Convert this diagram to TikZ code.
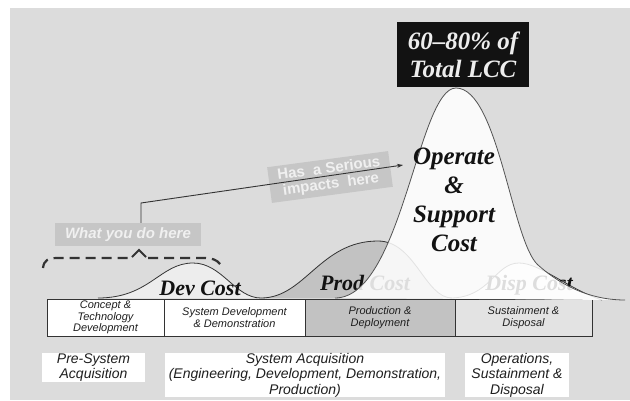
\documentclass[tikz,border=0pt]{standalone}
\usepackage{fontspec}
\setsansfont{Liberation Sans}[ItalicFont={Liberation Sans Italic}, BoldFont={Liberation Sans Bold},
    BoldItalicFont={Liberation Sans Bold Italic}]
\newfontfamily\costfont{Liberation Serif}[BoldItalicFont={Liberation Serif Bold Italic}]
\usetikzlibrary{arrows.meta}

\definecolor{bggray}{HTML}{DCDCDC}
\definecolor{devfill}{HTML}{EDEDED}
\definecolor{prodfill}{HTML}{C2C2C2}
\definecolor{dispfill}{HTML}{F6F6F6}
\definecolor{tagfill}{HTML}{C6C6C6}
\definecolor{inkgray}{HTML}{333333}

\tikzset{
    phase/.style={draw=inkgray, line width=0.9pt, minimum height=37pt, inner sep=0pt, align=center,
        text=black!88, font=\sffamily\itshape\fontsize{11}{11.5}\selectfont},
    era/.style={fill=white, inner sep=0pt, align=center, text=black!88,
        font=\sffamily\itshape\fontsize{14}{15.5}\selectfont},
    bump/.style={draw=inkgray, line width=0.8pt},
    costlabel/.style={anchor=base, text=black!93, font=\costfont\bfseries\itshape\fontsize{22}{26}\selectfont},
    tag/.style={fill=tagfill, text=white!94!black, inner sep=0pt, align=center,
        font=\sffamily\bfseries\fontsize{15}{16}\selectfont}
}

\begin{document}
\begin{tikzpicture}[x=1pt,y=-1pt]

    \def \bary {317.5} % middle of the phase bar
    \def \base {298}

    \useasboundingbox (0,0) rectangle (630,400);
    \fill[white] (0,0) rectangle (630,400);
    \fill[bggray] (10,8) rectangle (630,400);

    % phase bar
    \foreach \i/\l/\r/\fc/\txt in {1/47/164/white/{Concept \&\\Technology\\Development},
        2/164/305/white/{System Development\\\& Demonstration},
        3/305/455/prodfill/{Production \&\\Deployment},
        4/455/592/bggray!80!white/{Sustainment \&\\Disposal}}
    {
        \node[phase, fill=\fc, minimum width={\r-\l}] at ({(\l+\r)/2},\bary) (P\i) {\txt};
    }

    % cost humps
    \filldraw[bump, fill=devfill] (98,\base) .. controls (150,\base) and (160,263) .. (193,263)
        .. controls (222,263) and (235,\base) .. (261,\base);
    \filldraw[bump, fill=prodfill] (261,\base) .. controls (305,\base) and (320,241) .. (378,241)
        .. controls (415,241) and (425,\base) .. (452,\base);
    \filldraw[bump, fill=dispfill] (450,\base) .. controls (490,\base) and (495,263) .. (519,263)
        .. controls (540,263) and (570,290) .. (602,300);

    \node[costlabel] at (200,295) (devcost) {Dev Cost};
    \node[costlabel] at (365,290) (prodcost) {Prod Cost};
    \node[costlabel] at (529,290) (dispcost) {Disp Cost};

    % O&S hump lies over the others
    \filldraw[bump, draw=inkgray!85, fill=white, fill opacity=0.86] (335,\base) .. controls (402,\base) and (418,88) .. (456,88)
        .. controls (498,88) and (512,242) .. (538,265)
        .. controls (556,281) and (585,300) .. (625,300);

    \node[align=center, text=black!93, font=\costfont\bfseries\itshape\fontsize{25}{29}\selectfont]
        at (454,200) (oscost) {Operate\\\&\\Support\\Cost};

    \node[fill=black!93, text=white!93!black, minimum width=132pt, minimum height=65pt, align=center,
        font=\costfont\bfseries\itshape\fontsize{25}{28}\selectfont] at (463,54.5) (lcc) {60\textendash80\% of\\Total LCC};

    \node[tag, font=\sffamily\bfseries\itshape\fontsize{15}{16}\selectfont, minimum width=146pt, minimum height=23pt]
        at (128,234.5) (what) {What you do here};
    \node[tag, minimum width=122pt, minimum height=36pt, rotate=7.6] at (330,177) (impact) {Has\ \ a Serious\\impacts\ \ here};

    \coordinate (bend) at (141,203);
    \coordinate (ostip) at (403,165);
    \draw[inkgray, line width=0.9pt, -{Stealth[length=6pt,width=4pt]}] (what.north -| bend) -- (bend) -- (ostip);

    % dashed bracket over the early phases
    \draw[inkgray, line width=2.2pt, dash pattern=on 10pt off 6pt] (43,268) .. controls (44,260) and (48,258) .. (58,258)
        -- (130,258);
    \draw[inkgray, line width=2.2pt, dash pattern=on 10pt off 6pt] (148,258) -- (205,258)
        .. controls (212,258) and (217,260) .. (220,264);
    \draw[inkgray, line width=2pt] (132,257) -- (139,250) -- (146,257);

    \node[era, minimum width=103pt, minimum height=29pt] at (93.5,367.5) (presys) {Pre-System\\Acquisition};
    \node[era, minimum width=280pt, minimum height=44pt] at (305,375) (sysacq)
        {System Acquisition\\(Engineering, Development, Demonstration,\\Production)};
    \node[era, minimum width=104pt, minimum height=44pt] at (517,375) (opsust) {Operations,\\Sustainment \&\\Disposal};

\end{tikzpicture}
\end{document}
